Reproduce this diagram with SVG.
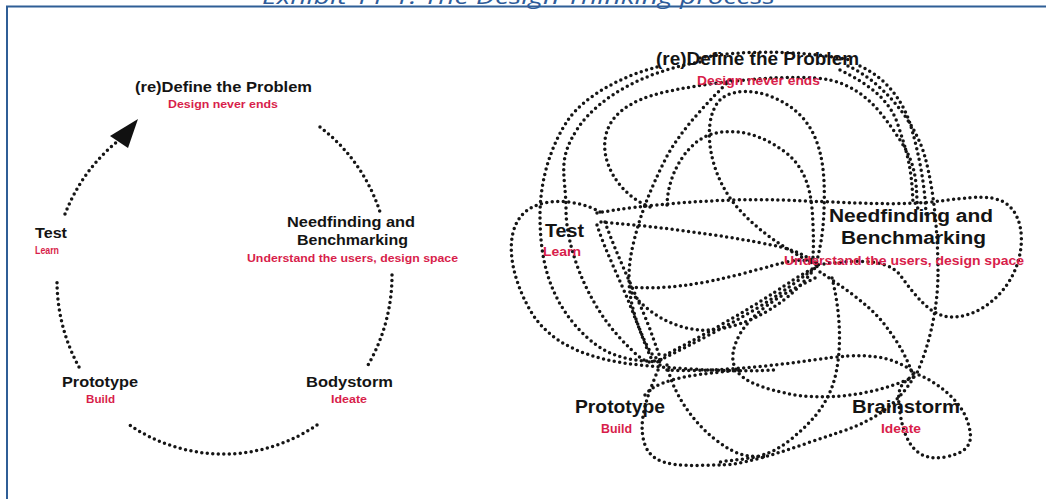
<svg xmlns="http://www.w3.org/2000/svg" width="1046" height="499" viewBox="0 0 1046 499">
  <style>
    .frame { fill: none; stroke: #2f5e96; stroke-width: 2; }
    .title { font-family: "Open Sans", "Liberation Sans", sans-serif; font-style: italic; font-size: 22px; fill: #2e5c9a; }
    .dot { fill: none; stroke: #151515; stroke-width: 3.5; stroke-linecap: round; stroke-dasharray: 0 5.5; }
    .head { fill: #111; }
    .name { font-family: "Liberation Sans", Arial, sans-serif; font-weight: bold; fill: #141414; }
    .note { font-family: "Liberation Sans", Arial, sans-serif; font-weight: bold; fill: #d81e4b; }
    .s1 { font-size: 15px; }
    .n1 { font-size: 10.5px; }
    .s2 { font-size: 17.5px; }
    .n2 { font-size: 12.5px; }
  </style>

  <rect width="1046" height="499" fill="#ffffff"/>

  <!-- page frame and caption -->
  <path class="frame" d="M7,505 V6.5 H1050"/>
  <text class="title" x="262" y="3.5" textLength="513" lengthAdjust="spacingAndGlyphs">Exhibit 11-1: The Design Thinking process</text>

  <!-- ===== left: the ideal cycle ===== -->
  <g id="cycle-connectors">
    <path class="dot" d="M65,214 A170 175 0 0 1 118,141"/>
    <polygon class="head" points="138,119 110,136 128,148"/>
    <path class="dot" d="M320,127 A170 175 0 0 1 380,212"/>
    <path class="dot" d="M392,275 A170 175 0 0 1 368,365"/>
    <path class="dot" d="M317,425 A170 175 0 0 1 128,424"/>
    <path class="dot" d="M79,367 A170 175 0 0 1 57,280"/>
  </g>

  <g id="cycle-define">
    <text class="name s1" x="135" y="92" textLength="177" lengthAdjust="spacingAndGlyphs">(re)Define the Problem</text>
    <text class="note n1" x="168" y="108" textLength="110" lengthAdjust="spacingAndGlyphs">Design never ends</text>
  </g>
  <g id="cycle-needfinding">
    <text class="name s1" x="287" y="227" textLength="128" lengthAdjust="spacingAndGlyphs">Needfinding and</text>
    <text class="name s1" x="297" y="245" textLength="111" lengthAdjust="spacingAndGlyphs">Benchmarking</text>
    <text class="note n1" x="247" y="262" textLength="211" lengthAdjust="spacingAndGlyphs">Understand the users, design space</text>
  </g>
  <g id="cycle-bodystorm">
    <text class="name s1" x="306" y="387" textLength="87" lengthAdjust="spacingAndGlyphs">Bodystorm</text>
    <text class="note n1" x="331" y="403" textLength="36" lengthAdjust="spacingAndGlyphs">Ideate</text>
  </g>
  <g id="cycle-prototype">
    <text class="name s1" x="62" y="387" textLength="76" lengthAdjust="spacingAndGlyphs">Prototype</text>
    <text class="note n1" x="86" y="403" textLength="29" lengthAdjust="spacingAndGlyphs">Build</text>
  </g>
  <g id="cycle-test">
    <text class="name s1" x="35" y="238" textLength="32" lengthAdjust="spacingAndGlyphs">Test</text>
    <text class="note n1" x="35" y="254" textLength="24" lengthAdjust="spacingAndGlyphs">Learn</text>
  </g>

  <!-- ===== right: the real, tangled process ===== -->
  <g id="tangle-connectors">
    <!-- outer left sweeps -->
    <path class="dot" d="M657,67 C625,75 585,95 568,120 S540,180 540,215 S545,290 575,325 S630,360 660,362"/>
    <path class="dot" d="M700,62 C650,70 600,95 578,128 S566,175 566,210 S585,300 620,338 S650,357 662,360"/>
    <!-- loop around Test -->
    <path class="dot" d="M600,212 C580,200 540,195 522,215 S510,275 530,310 S590,360 640,365 S740,372 775,370"/>
    <!-- upper inner loop to Needfinding -->
    <path class="dot" d="M650,207 C620,195 602,165 605,140 S630,100 665,92 S770,75 815,78 S880,110 900,140 S915,190 918,210"/>
    <!-- petal up from Needfinding -->
    <path class="dot" d="M816,265 C790,252 745,225 725,190 S705,115 720,100 S775,90 800,115 S825,180 824,210 S818,255 816,265"/>
    <path class="dot" d="M667,205 C668,170 690,140 712,134 S760,133 785,152 S812,200 813,225 S813,250 813,258"/>
    <!-- Test to Needfinding, with the right-hand loop -->
    <path class="dot" d="M597,213 C640,205 720,198 780,200 S880,205 918,203 S990,190 1008,205 S1025,255 1010,280 S970,318 950,317 S915,295 900,275 S840,262 816,265"/>
    <path class="dot" d="M601,222 C640,225 700,232 745,240 S795,250 815,262"/>
    <path class="dot" d="M631,287 C660,290 700,285 745,273 S795,258 815,262"/>
    <path class="dot" d="M632,293 C645,310 670,328 700,330 S780,315 815,268"/>
    <!-- diagonal from the top down to Prototype -->
    <path class="dot" d="M730,80 C710,100 680,130 665,160 S640,215 633,245 S628,300 640,330 S655,355 660,362"/>
    <!-- Test down to Prototype -->
    <path class="dot" d="M597,225 C605,250 620,280 630,305 S645,345 652,360"/>
    <path class="dot" d="M605,222 C615,250 628,278 640,305 S655,345 662,362"/>
    <!-- Prototype up to Needfinding -->
    <path class="dot" d="M660,360 C690,345 740,320 770,300 S805,275 815,268"/>
    <path class="dot" d="M665,355 C695,340 745,312 775,292 S810,270 818,266"/>
    <!-- Needfinding down to Brainstorm -->
    <path class="dot" d="M820,272 C840,285 870,305 885,325 S905,355 912,372"/>
    <path class="dot" d="M832,278 C840,310 842,345 836,373 S815,420 790,440 S745,458 720,462"/>
    <path class="dot" d="M815,278 C780,295 745,315 735,345 S750,385 785,393 S870,397 914,377"/>
    <!-- loop below Brainstorm -->
    <path class="dot" d="M914,373 C935,380 960,400 967,420 S972,452 945,457 S905,445 900,413 S905,385 914,373"/>
    <!-- bottom sweeps between Prototype and Brainstorm -->
    <path class="dot" d="M660,365 C650,390 636,420 645,445 S690,465 720,465 S800,445 840,432 S900,400 914,377"/>
    <path class="dot" d="M667,365 C672,390 690,420 716,440 S750,455 765,457"/>
    <path class="dot" d="M667,370 C700,372 760,368 813,360 S890,355 914,372"/>
    <path class="dot" d="M645,395 C655,383 675,375 744,370"/>
    <!-- right-hand sweeps from the top -->
    <path class="dot" d="M848,66 C880,80 915,120 925,157 S938,240 938,273 S930,345 916,375"/>
    <path class="dot" d="M840,70 C870,85 890,100 898,125 S912,165 913,205"/>
    <path class="dot" d="M860,66 C890,80 905,105 912,130 S925,185 926,215"/>
    <path class="dot" d="M700,58 C740,50 800,50 850,60"/>
  </g>

  <g id="tangle-define">
    <text class="name s2" x="656" y="65" textLength="203" lengthAdjust="spacingAndGlyphs">(re)Define the Problem</text>
    <text class="note n2" x="697" y="85" textLength="123" lengthAdjust="spacingAndGlyphs">Design never ends</text>
  </g>
  <g id="tangle-needfinding">
    <text class="name s2" x="829" y="222" textLength="164" lengthAdjust="spacingAndGlyphs">Needfinding and</text>
    <text class="name s2" x="841" y="244" textLength="145" lengthAdjust="spacingAndGlyphs">Benchmarking</text>
    <text class="note n2" x="784" y="265" textLength="240" lengthAdjust="spacingAndGlyphs">Understand the users, design space</text>
  </g>
  <g id="tangle-brainstorm">
    <text class="name s2" x="852" y="413" textLength="108" lengthAdjust="spacingAndGlyphs">Brainstorm</text>
    <text class="note n2" x="881" y="433" textLength="40" lengthAdjust="spacingAndGlyphs">Ideate</text>
  </g>
  <g id="tangle-prototype">
    <text class="name s2" x="575" y="413" textLength="90" lengthAdjust="spacingAndGlyphs">Prototype</text>
    <text class="note n2" x="601" y="433" textLength="31" lengthAdjust="spacingAndGlyphs">Build</text>
  </g>
  <g id="tangle-test">
    <text class="name s2" x="545" y="237" textLength="39" lengthAdjust="spacingAndGlyphs">Test</text>
    <text class="note n2" x="543" y="256" textLength="38" lengthAdjust="spacingAndGlyphs">Learn</text>
  </g>
</svg>
